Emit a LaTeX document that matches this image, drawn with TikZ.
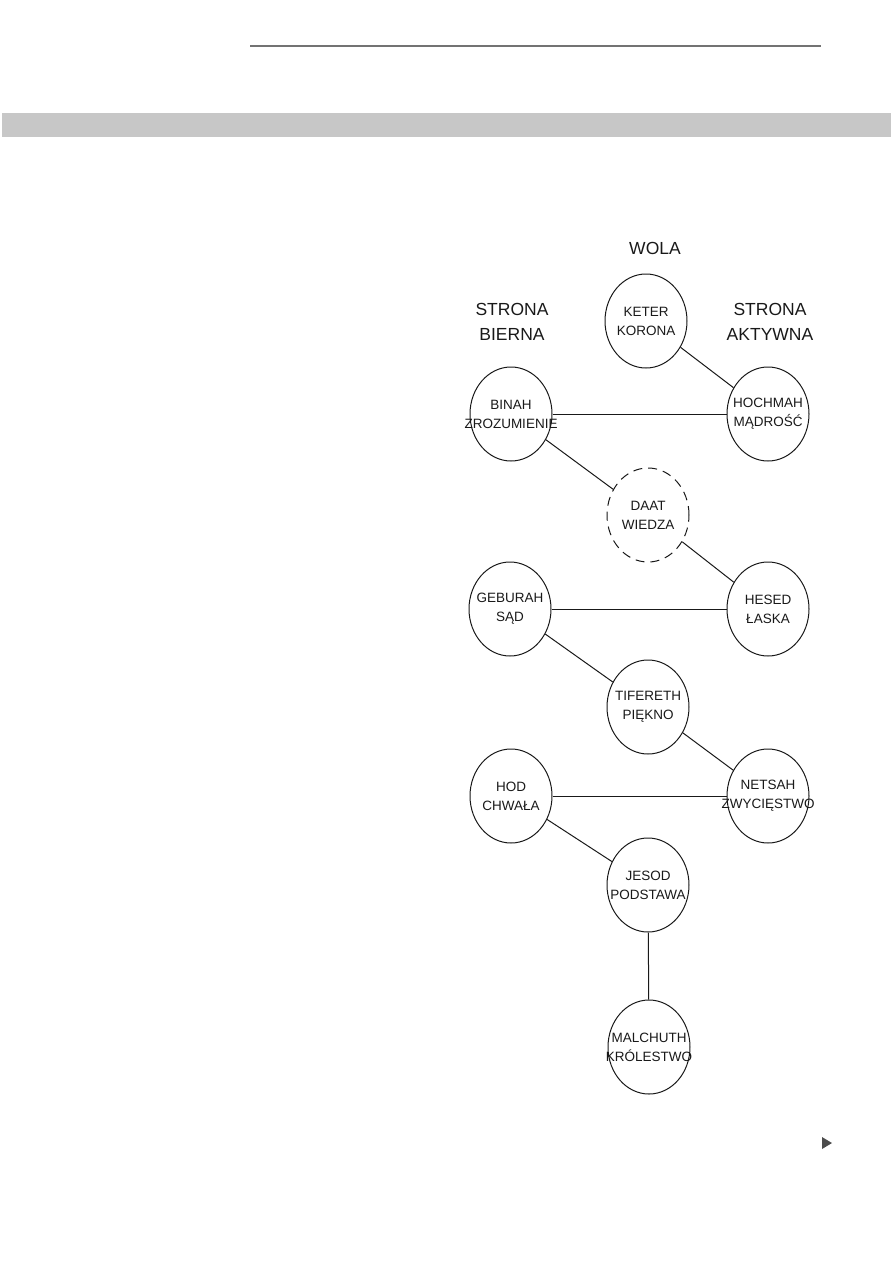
\documentclass[tikz,border=0pt]{standalone}
\usepackage{fontspec}
\setmainfont{Liberation Sans}
\usetikzlibrary{shapes.geometric}

\begin{document}
\begin{tikzpicture}[x=1pt, y=-1pt, line width=1pt,
  sefira/.style={ellipse, draw=black!90, minimum width=82pt, minimum height=94pt, inner sep=0pt},
  nazwa/.style={align=center, text=black!90, font=\fontsize{13.5}{19}\selectfont, inner sep=0pt},
  strona/.style={align=center, text=black!90, font=\fontsize{17.5}{25}\selectfont, inner sep=0pt},
  sciezka/.style={draw=black!90}]
\useasboundingbox (0,0) rectangle (893,1263);
% page header
\draw[black!55, line width=1.4pt] (250,46) -- (821,46);
\fill[black!22] (2,113) rectangle (891,137);

% titles
\node[strona] (wola) at (655,248) {WOLA};
\node[strona] (bierna) at (512,322) {STRONA\\BIERNA};
\node[strona] (aktywna) at (770,322) {STRONA\\AKTYWNA};

% sefirot
\node[sefira, label={[nazwa]center:KETER\\KORONA}] (keter) at (646,321) {};
\node[sefira, label={[nazwa]center:BINAH\\ZROZUMIENIE}] (binah) at (511,414) {};
\node[sefira, label={[nazwa]center:HOCHMAH\\MĄDROŚĆ}] (hochmah) at (768,414) {};
\node[sefira, dash pattern=on 9pt off 6pt, label={[nazwa]center:DAAT\\WIEDZA}] (daat) at (648,515) {};
\node[sefira, label={[nazwa]center:GEBURAH\\SĄD}] (geburah) at (510,609) {};
\node[sefira, label={[nazwa]center:HESED\\ŁASKA}] (hesed) at (768,609) {};
\node[sefira, label={[nazwa]center:TIFERETH\\PIĘKNO}] (tifereth) at (648,707) {};
\node[sefira, label={[nazwa]center:HOD\\CHWAŁA}] (hod) at (511,796) {};
\node[sefira, label={[nazwa]center:NETSAH\\ZWYCIĘSTWO}] (netsah) at (768,796) {};
\node[sefira, label={[nazwa]center:JESOD\\PODSTAWA}] (jesod) at (648,885) {};
\node[sefira, label={[nazwa]center:MALCHUTH\\KRÓLESTWO}] (malchuth) at (649,1047) {};

% paths
\draw[sciezka] (keter) -- (hochmah);
\draw[sciezka] (binah) -- (hochmah);
\draw[sciezka] (binah) -- (daat);
\draw[sciezka] (daat) -- (hesed);
\draw[sciezka] (geburah) -- (hesed);
\draw[sciezka] (geburah) -- (tifereth);
\draw[sciezka] (tifereth) -- (netsah);
\draw[sciezka] (hod) -- (netsah);
\draw[sciezka] (hod) -- (jesod);
\draw[sciezka] (jesod) -- (malchuth);

% page marker
\fill[black!70] (822,1137) -- (832,1143) -- (822,1149) -- cycle;
\end{tikzpicture}
\end{document}
